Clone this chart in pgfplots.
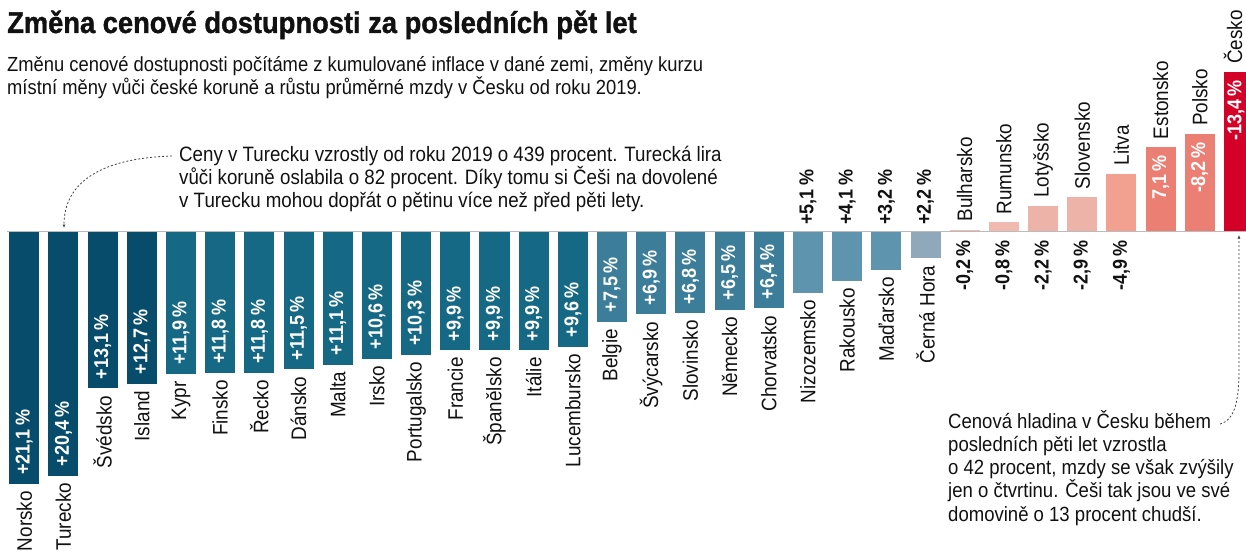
\documentclass[border=0pt]{standalone}
\usepackage{fontspec}
\setmainfont{Liberation Sans}[FakeStretch=0.9]
\newfontfamily\titlefont{Liberation Sans Bold}[FakeStretch=0.91, FakeBold=1.2]
\usepackage{pgfplots}
\pgfplotsset{compat=1.18}
\usetikzlibrary{arrows.meta}
\definecolor{txt}{HTML}{111111}
\definecolor{ca}{HTML}{074C6A}
\definecolor{cb}{HTML}{156985}
\definecolor{cc}{HTML}{3C7E99}
\definecolor{cd}{HTML}{5E94AE}
\definecolor{ce}{HTML}{8FA8BA}
\definecolor{cf}{HTML}{F0BAB0}
\definecolor{cg}{HTML}{EEB3A8}
\definecolor{ch}{HTML}{F2A190}
\definecolor{ci}{HTML}{EC7F74}
\definecolor{cj}{HTML}{D40028}
\definecolor{basel}{HTML}{BBBBBB}
% positive, label inside
\newcommand\PB[4]{%
  \node[vin, anchor=west] at ([yshift=9pt]axis cs:#1,#2) {#3};
  \node[nm, anchor=east] at ([yshift=-7pt]axis cs:#1,#2) {#4};}
% positive small, label above baseline
\newcommand\PS[4]{%
  \node[vout, anchor=west] at ([yshift=7pt]axis cs:#1,0) {#3};
  \node[nm, anchor=east] at ([yshift=-7pt]axis cs:#1,#2) {#4};}
% negative small, label below baseline
\newcommand\NS[4]{%
  \node[vout, anchor=east] at ([yshift=-8pt]axis cs:#1,0) {#3};
  \node[nm, anchor=west] at ([yshift=8pt]axis cs:#1,#2) {#4};}
% negative big, label inside
\newcommand\NB[6][0pt]{%
  \node[vin, anchor=east] at ([yshift=-8pt,xshift=#2]axis cs:#3,#4) {#5};
  \node[nm, anchor=west] at ([yshift=8pt,xshift=#1]axis cs:#3,#4) {#6};}
\begin{document}
\begin{tikzpicture}[
  nm/.style={rotate=90, inner sep=0pt, font=\fontsize{21}{21}\selectfont, text=txt},
  vin/.style={rotate=90, inner sep=0pt, font=\bfseries\fontsize{20}{20}\selectfont, text=white},
  vout/.style={rotate=90, inner sep=0pt, font=\bfseries\fontsize{20}{20}\selectfont, text=txt},
  ann/.style={anchor=base west, inner sep=0pt, font=\fontsize{20.8}{20.8}\selectfont, text=txt},
  annb/.style={anchor=base west, inner sep=0pt, font=\fontsize{20.6}{20.6}\selectfont, text=txt},
]
\begin{axis}[
  at={(0pt,0pt)}, anchor=south west,
  scale only axis, width=1246pt, height=550pt,
  xmin=-0.620, xmax=31.18, ymin=-19.43, ymax=26.63, y dir=reverse,
  hide axis, clip=false,
  every axis plot/.append style={ybar, bar width=0.766, bar shift=0pt, draw=none},
]
\addplot[fill=ca] coordinates {(0,21.1)};
\addplot[fill=ca] coordinates {(1,20.4)};
\addplot[fill=ca] coordinates {(2,13.1)};
\addplot[fill=ca] coordinates {(3,12.7)};
\addplot[fill=cb] coordinates {(4,11.9)};
\addplot[fill=cb] coordinates {(5,11.8)};
\addplot[fill=cb] coordinates {(6,11.8)};
\addplot[fill=cb] coordinates {(7,11.5)};
\addplot[fill=cb] coordinates {(8,11.1)};
\addplot[fill=cb] coordinates {(9,10.6)};
\addplot[fill=cb] coordinates {(10,10.3)};
\addplot[fill=cb] coordinates {(11,9.9)};
\addplot[fill=cb] coordinates {(12,9.9)};
\addplot[fill=cb] coordinates {(13,9.9)};
\addplot[fill=cb] coordinates {(14,9.6)};
\addplot[fill=cc] coordinates {(15,7.5)};
\addplot[fill=cc] coordinates {(16,6.9)};
\addplot[fill=cc] coordinates {(17,6.8)};
\addplot[fill=cc] coordinates {(18,6.5)};
\addplot[fill=cc] coordinates {(19,6.4)};
\addplot[fill=cd] coordinates {(20,5.1)};
\addplot[fill=cd] coordinates {(21,4.1)};
\addplot[fill=cd] coordinates {(22,3.2)};
\addplot[fill=ce] coordinates {(23,2.2)};
\addplot[fill=cf] coordinates {(24,-0.2)};
\addplot[fill=cf] coordinates {(25,-0.8)};
\addplot[fill=cg] coordinates {(26,-2.2)};
\addplot[fill=cg] coordinates {(27,-2.9)};
\addplot[fill=ch] coordinates {(28,-4.9)};
\addplot[fill=ci] coordinates {(29,-7.1)};
\addplot[fill=ci] coordinates {(30,-8.2)};
\addplot[fill=cj] coordinates {(31,-13.4)};
\draw[basel, line width=1.2pt] (axis cs:-0.44,-0.04) -- (axis cs:31.18,-0.04);
\PB{0}{21.1}{+21,1\,\%}{Norsko}
\PB{1}{20.4}{+20,4\,\%}{Turecko}
\PB{2}{13.1}{+13,1\,\%}{Švédsko}
\PB{3}{12.7}{+12,7\,\%}{Island}
\PB{4}{11.9}{+11,9\,\%}{Kypr}
\PB{5}{11.8}{+11,8\,\%}{Finsko}
\PB{6}{11.8}{+11,8\,\%}{Řecko}
\PB{7}{11.5}{+11,5\,\%}{Dánsko}
\PB{8}{11.1}{+11,1\,\%}{Malta}
\PB{9}{10.6}{+10,6\,\%}{Irsko}
\PB{10}{10.3}{+10,3\,\%}{Portugalsko}
\PB{11}{9.9}{+9,9\,\%}{Francie}
\PB{12}{9.9}{+9,9\,\%}{Španělsko}
\PB{13}{9.9}{+9,9\,\%}{Itálie}
\PB{14}{9.6}{+9,6\,\%}{Lucembursko}
\PB{15}{7.5}{+7,5\,\%}{Belgie}
\PB{16}{6.9}{+6,9\,\%}{Švýcarsko}
\PB{17}{6.8}{+6,8\,\%}{Slovinsko}
\PB{18}{6.5}{+6,5\,\%}{Německo}
\PB{19}{6.4}{+6,4\,\%}{Chorvatsko}
\PS{20}{5.1}{+5,1\,\%}{Nizozemsko}
\PS{21}{4.1}{+4,1\,\%}{Rakousko}
\PS{22}{3.2}{+3,2\,\%}{Maďarsko}
\PS{23}{2.2}{+2,2\,\%}{Černá Hora}
\NS{24}{-0.2}{-0,2\,\%}{Bulharsko}
\NS{25}{-0.8}{-0,8\,\%}{Rumunsko}
\NS{26}{-2.2}{-2,2\,\%}{Lotyšsko}
\NS{27}{-2.9}{-2,9\,\%}{Slovensko}
\NS{28}{-4.9}{-4,9\,\%}{Litva}
\NB{0pt}{29}{-7.1}{7,1\,\%}{Estonsko}
\NB{0pt}{30}{-8.2}{-8,2\,\%}{Polsko}
\NB[-6pt]{-3pt}{31}{-13.4}{-13,4\,\%}{Česko}
\end{axis}
% title and texts (picture coords: x = px, y = 550 - px)
\node[anchor=base west, inner sep=0pt, text=txt, font=\titlefont\fontsize{30}{30}\selectfont] at (7pt,517pt) {Změna cenové dostupnosti za posledních pět let};
\node[ann, font=\fontsize{20.4}{20.4}\selectfont] at (7pt,478pt) {Změnu cenové dostupnosti počítáme z kumulované inflace v dané zemi, změny kurzu};
\node[ann, font=\fontsize{20.4}{20.4}\selectfont] at (7pt,455pt) {místní měny vůči české koruně a růstu průměrné mzdy v Česku od roku 2019.};
\node[ann] at (179pt,389pt) {Ceny v Turecku vzrostly od roku 2019 o 439 procent. Turecká lira};
\node[ann] at (179pt,366pt) {vůči koruně oslabila o 82 procent. Díky tomu si Češi na dovolené};
\node[ann] at (179pt,343pt) {v Turecku mohou dopřát o pětinu více než před pěti lety.};
\node[annb] at (948pt,122pt) {Cenová hladina v Česku během};
\node[annb] at (948pt,99pt) {posledních pěti let vzrostla};
\node[annb] at (948pt,76pt) {o 42 procent, mzdy se však zvýšily};
\node[annb] at (948pt,53pt) {jen o čtvrtinu. Češi tak jsou ve své};
\node[annb] at (948pt,29pt) {domovině o 13 procent chudší.};
\draw[txt!80, line width=0.8pt, dash pattern=on 2pt off 2pt, -{Latex[length=3.5pt,width=3pt]}]
  (172pt,394pt) .. controls (105pt,392pt) and (64pt,370pt) .. (64pt,322pt);
\draw[txt!80, line width=0.8pt, dash pattern=on 2pt off 2pt, -{Latex[length=3.5pt,width=3pt]}]
  (1220pt,126pt) .. controls (1235pt,130pt) and (1239pt,150pt) .. (1239pt,180pt) -- (1239pt,315pt);
\pgfresetboundingbox
\path[use as bounding box] (0pt,0pt) rectangle (1246pt,550pt);
\end{tikzpicture}
\end{document}
